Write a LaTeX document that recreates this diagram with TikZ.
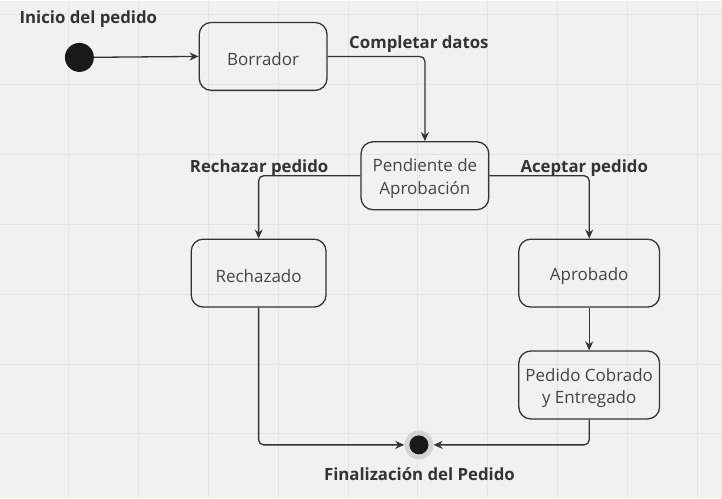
\documentclass[tikz,border=0pt]{standalone}
\usepackage{fontspec}
\setmainfont{Open Sans}
\usetikzlibrary{arrows.meta}
\definecolor{bgcol}{HTML}{F1F1F1}
\definecolor{gridcol}{HTML}{E3E3E3}
\definecolor{inkcol}{HTML}{333333}
\definecolor{txtcol}{HTML}{444444}
\definecolor{ringcol}{HTML}{D4D4D4}
\newcommand{\toplift}{\rule{0pt}{19pt}}
\begin{document}
\begin{tikzpicture}[x=1pt,y=-1pt,
    statebox/.style={draw=inkcol, line width=1.3pt, rounded corners=12pt,
      minimum height=68pt, align=center, inner sep=2pt, text=txtcol,
      font=\fontsize{17}{22.5}\selectfont},
    lbl/.style={font=\bfseries\fontsize{16.8}{20}\selectfont, text=inkcol, inner sep=0pt},
    flow/.style={draw=inkcol, line width=1.3pt, rounded corners=5pt,
      -{Stealth[length=9pt,width=8pt]}}]

    % background and grid
    \fill[bgcol] (0,0) rectangle (722,498);
    \foreach \x in {68,138,...,698}
        \draw[gridcol, line width=1pt] (\x,0) -- (\x,498);
    \foreach \y in {14,84,...,434}
        \draw[gridcol, line width=1pt] (0,\y) -- (722,\y);
    \useasboundingbox (0,0) rectangle (722,498);

    % start and end points
    \node[circle, fill=black!90, minimum size=29pt, inner sep=0pt] (inicio) at (79,57) {};
    \node[circle, fill=ringcol, minimum size=29pt, inner sep=0pt] (fin) at (419,445) {};
    \fill[black!90] (fin.center) circle (9.5pt);

    % states
    \node[statebox, minimum width=128pt] (borrador) at (263,56) {\toplift Borrador};
    \node[statebox, minimum width=128pt] (pendiente) at (425,175.5) {\toplift Pendiente de\\Aprobación};
    \node[statebox, minimum width=135pt] (rechazado) at (258.5,273) {\toplift Rechazado};
    \node[statebox, minimum width=141pt] (aprobado) at (589.5,273) {\toplift Aprobado};
    \node[statebox, minimum width=141pt] (cobrado) at (589.5,385) {\toplift Pedido Cobrado\\y Entregado};

    % labels
    \node[lbl] (lblinicio) at (88,19) {Inicio del pedido};
    \node[lbl] (lblcompletar) at (419,44) {Completar datos};
    \node[lbl] (lblrechazar) at (259,168) {Rechazar pedido};
    \node[lbl] (lblaceptar) at (584.5,168) {Aceptar pedido};
    \node[lbl] (lblfin) at (419.5,474) {Finalización del Pedido};

    % transitions
    \draw[flow] (inicio) -- (borrador.west);
    \draw[flow] (borrador.east) -| (pendiente.north);
    \draw[flow] (pendiente.west) -| (rechazado.north);
    \draw[flow] (pendiente.east) -| (aprobado.north);
    \draw[flow] (aprobado.south) -- (cobrado.north);
    \draw[flow] (rechazado.south) |- (fin.west);
    \draw[flow] (cobrado.south) |- (fin.east);
\end{tikzpicture}
\end{document}
